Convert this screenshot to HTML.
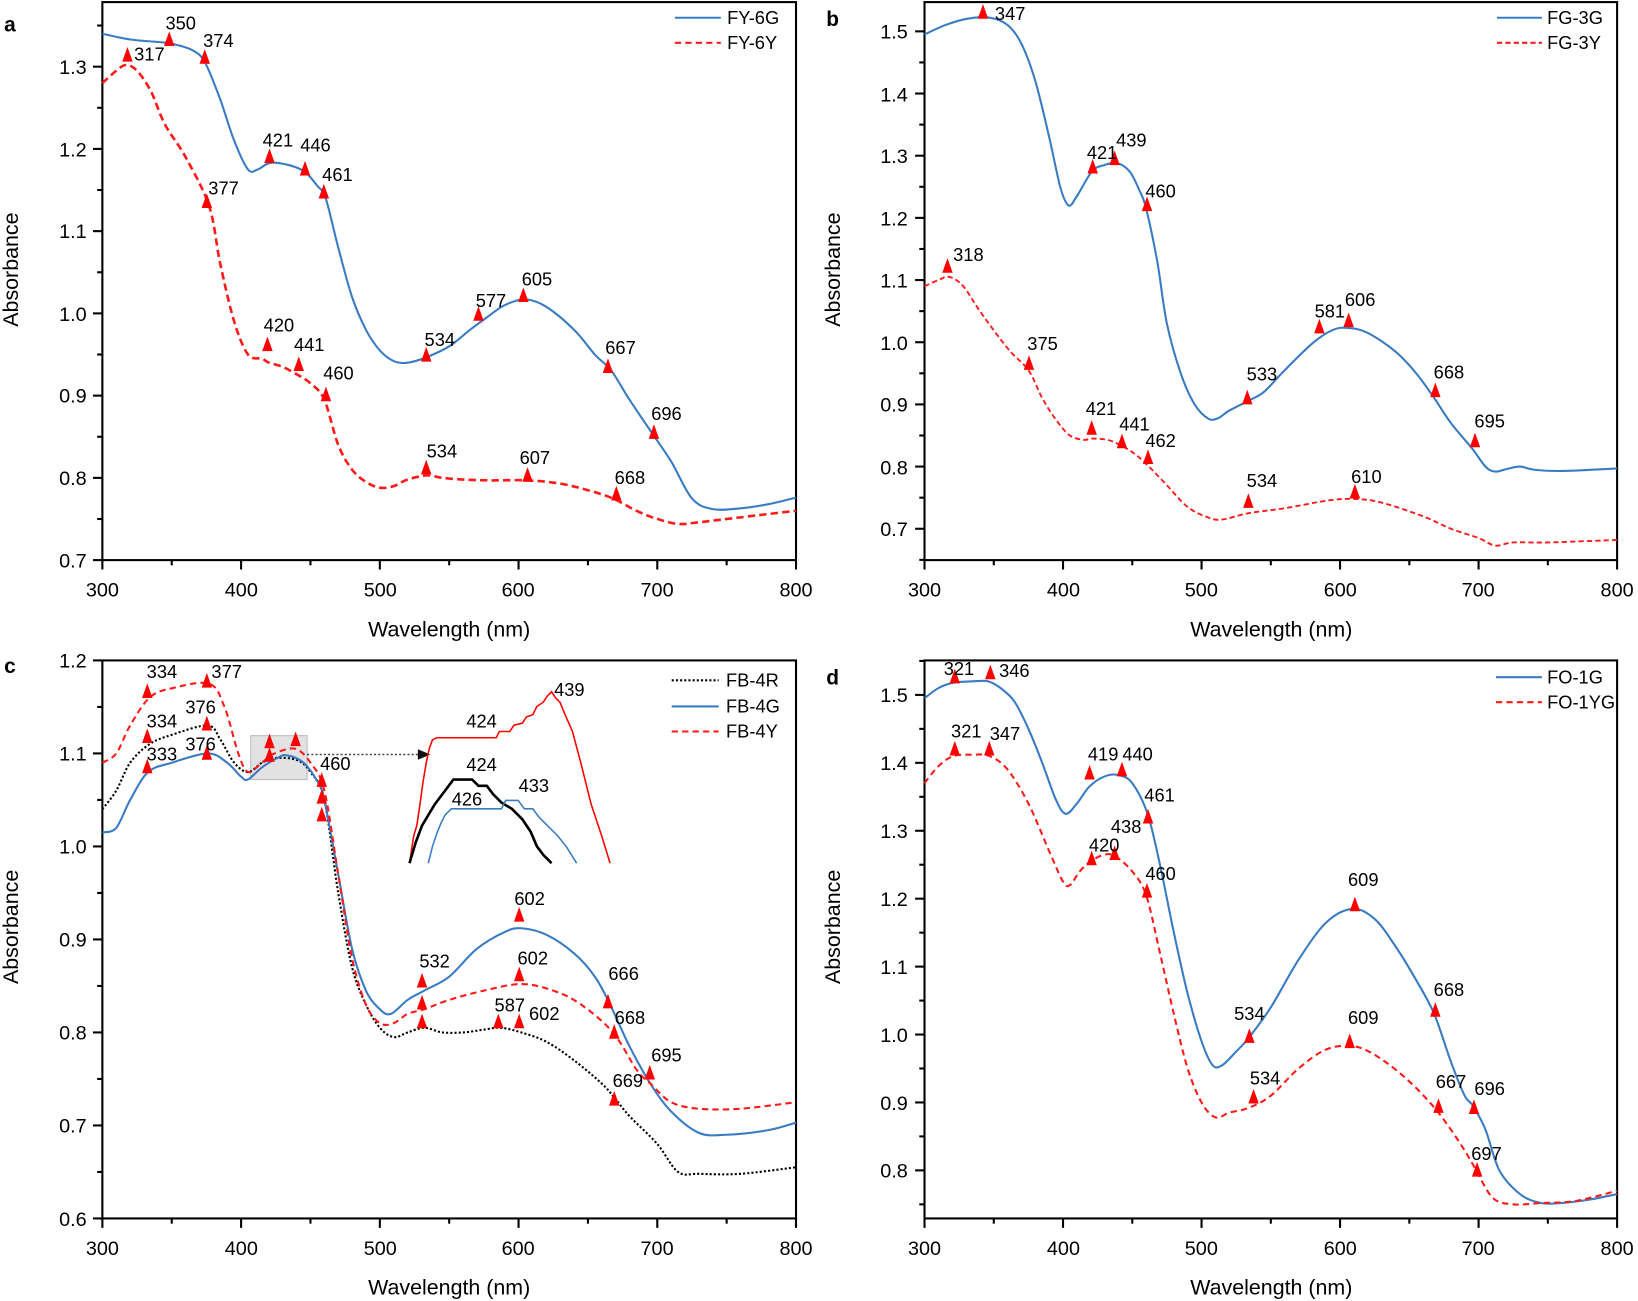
<!DOCTYPE html>
<html><head><meta charset="utf-8"><style>
html,body{margin:0;padding:0;background:#fff}
svg{display:block}
text{font-family:"Liberation Sans",Arial,sans-serif;fill:#000}
.yl{font-size:19px;text-anchor:end}
.xl{font-size:19px;text-anchor:middle}
.ax{font-size:20.5px;text-anchor:middle}
.pk{font-size:17.5px;text-anchor:middle}
.lg{font-size:17.5px}
.pl{font-size:20px;font-weight:bold}
</style></head><body>
<svg id="s" width="1638" height="1301" viewBox="0 0 1568 1245" preserveAspectRatio="none" xmlns="http://www.w3.org/2000/svg">
<g id="g"></g>
<text class="pl" x="4" y="30">a</text>
<text class="pl" x="791" y="25">b</text>
<text class="pl" x="4" y="644">c</text>
<text class="pl" x="791" y="655">d</text>
<g class="yl"><text x="83" y="543">0.7</text><text x="83" y="464">0.8</text><text x="83" y="385">0.9</text><text x="83" y="307">1.0</text><text x="83" y="228">1.1</text><text x="83" y="150">1.2</text><text x="83" y="71">1.3</text></g>
<g class="xl"><text x="98" y="571">300</text><text x="231" y="571">400</text><text x="364" y="571">500</text><text x="496" y="571">600</text><text x="629" y="571">700</text><text x="762" y="571">800</text></g>
<g class="yl"><text x="869" y="513">0.7</text><text x="869" y="454">0.8</text><text x="869" y="394">0.9</text><text x="869" y="335">1.0</text><text x="869" y="275">1.1</text><text x="869" y="216">1.2</text><text x="869" y="156">1.3</text><text x="869" y="97">1.4</text><text x="869" y="37">1.5</text></g>
<g class="xl"><text x="885" y="571">300</text><text x="1018" y="571">400</text><text x="1150" y="571">500</text><text x="1283" y="571">600</text><text x="1415" y="571">700</text><text x="1548" y="571">800</text></g>
<g class="yl"><text x="83" y="1173">0.6</text><text x="83" y="1084">0.7</text><text x="83" y="995">0.8</text><text x="83" y="906">0.9</text><text x="83" y="817">1.0</text><text x="83" y="728">1.1</text><text x="83" y="639">1.2</text></g>
<g class="xl"><text x="98" y="1201">300</text><text x="231" y="1201">400</text><text x="364" y="1201">500</text><text x="496" y="1201">600</text><text x="629" y="1201">700</text><text x="762" y="1201">800</text></g>
<g class="yl"><text x="869" y="1127">0.8</text><text x="869" y="1062">0.9</text><text x="869" y="997">1.0</text><text x="869" y="932">1.1</text><text x="869" y="867">1.2</text><text x="869" y="802">1.3</text><text x="869" y="737">1.4</text><text x="869" y="672">1.5</text></g>
<g class="xl"><text x="885" y="1201">300</text><text x="1018" y="1201">400</text><text x="1150" y="1201">500</text><text x="1283" y="1201">600</text><text x="1415" y="1201">700</text><text x="1548" y="1201">800</text></g>
<text class="ax" x="430" y="609">Wavelength (nm)</text>
<text class="ax" x="1217" y="609">Wavelength (nm)</text>
<text class="ax" x="430" y="1239">Wavelength (nm)</text>
<text class="ax" x="1217" y="1239">Wavelength (nm)</text>
<text class="ax" transform="translate(17,258) rotate(-90)">Absorbance</text>
<text class="ax" transform="translate(804,258) rotate(-90)">Absorbance</text>
<text class="ax" transform="translate(17,887) rotate(-90)">Absorbance</text>
<text class="ax" transform="translate(804,887) rotate(-90)">Absorbance</text>
<text class="lg" x="696" y="23">FY-6G</text><text class="lg" x="696" y="47">FY-6Y</text>
<text class="lg" x="1481" y="23">FG-3G</text><text class="lg" x="1481" y="47">FG-3Y</text>
<text class="lg" x="695" y="657">FB-4R</text><text class="lg" x="695" y="682">FB-4G</text><text class="lg" x="695" y="706">FB-4Y</text>
<text class="lg" x="1481" y="654">FO-1G</text><text class="lg" x="1481" y="678">FO-1YG</text>
<g class="pk">
<text x="173" y="28">350</text><text x="209" y="45">374</text><text x="143" y="58">317</text><text x="266" y="140">421</text><text x="302" y="145">446</text><text x="323" y="173">461</text><text x="214" y="186">377</text><text x="514" y="273">605</text><text x="470" y="294">577</text><text x="421" y="331">534</text><text x="594" y="339">667</text><text x="638" y="402">696</text><text x="267" y="317">420</text><text x="296" y="336">441</text><text x="324" y="363">460</text><text x="423" y="438">534</text><text x="512" y="444">607</text><text x="603" y="463">668</text>
<text x="967" y="19">347</text><text x="1055" y="152">421</text><text x="1083" y="140">439</text><text x="1111" y="189">460</text><text x="927" y="250">318</text><text x="998" y="335">375</text><text x="1273" y="304">581</text><text x="1302" y="293">606</text><text x="1208" y="364">533</text><text x="1387" y="362">668</text><text x="1426" y="409">695</text><text x="1054" y="397">421</text><text x="1086" y="412">441</text><text x="1111" y="428">462</text><text x="1208" y="466">534</text><text x="1308" y="462">610</text>
<text x="155" y="649">334</text><text x="217" y="649">377</text><text x="155" y="696">334</text><text x="192" y="683">376</text><text x="155" y="728">333</text><text x="192" y="718">376</text><text x="321" y="737">460</text><text x="416" y="926">532</text><text x="507" y="866">602</text><text x="510" y="923">602</text><text x="488" y="968">587</text><text x="521" y="976">602</text><text x="597" y="938">666</text><text x="603" y="980">668</text><text x="638" y="1016">695</text><text x="601" y="1040">669</text>
<text x="545" y="666">439</text><text x="461" y="696">424</text><text x="461" y="738">424</text><text x="447" y="771">426</text><text x="511" y="758">433</text>
<text x="918" y="646">321</text><text x="971" y="648">346</text><text x="925" y="706">321</text><text x="962" y="708">347</text><text x="1056" y="728">419</text><text x="1089" y="728">440</text><text x="1110" y="767">461</text><text x="1057" y="815">420</text><text x="1078" y="797">438</text><text x="1111" y="842">460</text><text x="1305" y="848">609</text><text x="1196" y="976">534</text><text x="1387" y="953">668</text><text x="1211" y="1038">534</text><text x="1305" y="980">609</text><text x="1389" y="1041">667</text><text x="1426" y="1048">696</text><text x="1423" y="1110">697</text>
</g>
</svg>
<script>
var NS="http://www.w3.org/2000/svg",G=document.getElementById("g");
function el(n,a){var e=document.createElementNS(NS,n);for(var k in a)e.setAttribute(k,a[k]);G.appendChild(e);return e;}
var B="#3a7cc4",R="#ff1a1a";
var P={a:{x0:98,x1:762,top:2,bot:536,yv:0.7,yp:536,k:787,ymin:0.7,ymax:1.35,st:0.05},
b:{x0:885,x1:1548,top:2,bot:536,yv:0.7,yp:506,k:595,ymin:0.65,ymax:1.55,st:0.05},
c:{x0:98,x1:762,top:632,bot:1166,yv:0.6,yp:1166,k:890,ymin:0.6,ymax:1.2,st:0.05},
d:{x0:885,x1:1548,top:632,bot:1166,yv:0.8,yp:1120,k:650,ymin:0.75,ymax:1.55,st:0.05}};
function X(p,w){return p.x0+(w-300)*(p.x1-p.x0)/500;}
function Y(p,v){return p.yp-(v-p.yv)*p.k;}
function frame(p){
 el("rect",{x:p.x0,y:p.top,width:p.x1-p.x0,height:p.bot-p.top,fill:"none",stroke:"#000","stroke-width":2});
 for(var w=300;w<=800;w+=50){var x=X(p,w);el("line",{x1:x,x2:x,y1:p.bot,y2:p.bot+(w%100?5:9),stroke:"#000","stroke-width":2});}
 for(var i=0;i<40;i++){var v=Math.round((p.ymin+i*p.st)*100)/100;if(v>p.ymax+1e-6)break;var y=Y(p,v);if(y<p.top-1||y>p.bot+1)continue;
  var maj=Math.abs(v*10-Math.round(v*10))<1e-6;el("line",{x1:p.x0,x2:p.x0-(maj?9:5),y1:y,y2:y,stroke:"#000","stroke-width":2});}
}
function curve(p,d,col,dash,w){var pts=[];for(var i=0;i<d.length;i+=2)pts.push([X(p,d[i]),Y(p,d[i+1])]);
 var s="M"+pts[0][0].toFixed(1)+","+pts[0][1].toFixed(1);
 for(var i=0;i<pts.length-1;i++){var p0=pts[Math.max(0,i-1)],p1=pts[i],p2=pts[i+1],p3=pts[Math.min(pts.length-1,i+2)];
  var c1=[p1[0]+(p2[0]-p0[0])/6,p1[1]+(p2[1]-p0[1])/6],c2=[p2[0]-(p3[0]-p1[0])/6,p2[1]-(p3[1]-p1[1])/6];
  s+="C"+c1[0].toFixed(1)+","+c1[1].toFixed(1)+" "+c2[0].toFixed(1)+","+c2[1].toFixed(1)+" "+p2[0].toFixed(1)+","+p2[1].toFixed(1);}
 var a={d:s,fill:"none",stroke:col,"stroke-width":w||2,"stroke-linejoin":"round"};if(dash)a["stroke-dasharray"]=dash;el("path",a);}
function mk(arr){for(var i=0;i<arr.length;i+=2){var x=arr[i],y=arr[i+1];el("polygon",{points:(x-5)+","+(y+6)+" "+(x+5)+","+(y+6)+" "+x+","+(y-8),fill:"#f00"});}}
for(var k in P)frame(P[k]);
curve(P.a,[300,1.34,320,1.333,340,1.33,350,1.328,365,1.32,374,1.305,385,1.26,395,1.21,405,1.175,412,1.175,421,1.183,435,1.18,446,1.172,455,1.155,461,1.14,470,1.08,480,1.02,490,0.98,500,0.955,510,0.942,520,0.94,534,0.947,550,0.96,565,0.98,577,0.995,590,1.01,605,1.017,620,1.008,640,0.98,655,0.95,667,0.93,680,0.895,696,0.855,710,0.82,725,0.775,740,0.762,760,0.763,780,0.768,800,0.776],B);
curve(P.a,[300,1.28,310,1.295,317,1.302,325,1.295,335,1.27,345,1.23,360,1.19,377,1.13,385,1.06,395,0.99,405,0.95,415,0.945,420,0.94,430,0.935,441,0.925,450,0.915,460,0.895,470,0.84,480,0.81,490,0.795,500,0.788,510,0.79,520,0.798,534,0.803,545,0.8,560,0.798,580,0.797,607,0.797,630,0.793,650,0.785,668,0.775,685,0.76,700,0.75,715,0.744,730,0.746,760,0.752,800,0.76],R,"7,4",2.5);
mk([162,38,196,55,122,53,258,150,292,162,310,184,198,193,501,283,458,301,408,340,582,351,626,414,256,330,286,349,312,378,408,448,505,455,590,473]);
curve(P.b,[300,1.495,315,1.51,330,1.52,347,1.522,360,1.51,370,1.48,380,1.42,390,1.33,398,1.25,404,1.22,410,1.235,421,1.275,430,1.285,439,1.288,448,1.275,455,1.245,460,1.215,468,1.13,475,1.03,485,0.95,495,0.9,505,0.877,512,0.878,520,0.89,533,0.905,545,0.92,560,0.955,581,1.0,595,1.02,606,1.023,620,1.015,640,0.985,655,0.95,668,0.91,680,0.87,695,0.83,705,0.8,712,0.792,720,0.796,730,0.8,740,0.795,760,0.793,800,0.797],B);
curve(P.b,[300,1.09,310,1.1,318,1.105,328,1.09,340,1.05,360,0.99,375,0.955,385,0.91,395,0.875,405,0.85,415,0.843,421,0.845,432,0.843,441,0.835,452,0.82,462,0.8,475,0.77,490,0.735,505,0.718,515,0.715,534,0.725,560,0.733,590,0.745,610,0.748,630,0.742,660,0.72,680,0.7,700,0.685,712,0.673,725,0.678,750,0.678,800,0.682],R,"5,3",1.8);
mk([941,12,1046,160,1067,152,1098,196,907,255,985,348,1263,313,1291,307,1194,381,1374,374,1412,422,1045,410,1074,423,1099,438,1195,480,1297,471]);
el("rect",{x:240,y:704,width:54,height:42,fill:"#e2e2e2",stroke:"#bbb","stroke-width":1});
curve(P.c,[300,1.04,310,1.06,320,1.09,334,1.11,350,1.12,376,1.13,385,1.115,395,1.09,405,1.08,415,1.09,424,1.095,440,1.093,450,1.08,460,1.05,470,0.95,480,0.87,490,0.83,500,0.805,510,0.795,520,0.8,532,0.805,545,0.8,560,0.8,575,0.803,587,0.805,602,0.8,620,0.79,640,0.77,660,0.745,669,0.73,680,0.71,700,0.68,715,0.65,730,0.648,760,0.648,800,0.655],"#000","2,2",2);
curve(P.c,[300,1.015,310,1.02,320,1.05,333,1.08,350,1.09,376,1.1,390,1.09,400,1.075,405,1.072,415,1.085,426,1.095,433,1.098,445,1.09,455,1.07,460,1.05,470,0.97,480,0.89,490,0.845,500,0.825,508,0.82,520,0.835,532,0.845,550,0.86,570,0.89,590,0.908,602,0.912,620,0.905,640,0.885,655,0.86,666,0.83,680,0.785,695,0.745,710,0.715,730,0.692,750,0.69,780,0.695,800,0.703],B);
curve(P.c,[300,1.09,310,1.1,320,1.13,334,1.16,350,1.17,377,1.175,388,1.15,398,1.1,405,1.08,415,1.09,424,1.1,439,1.105,450,1.09,460,1.06,470,0.97,480,0.88,490,0.83,500,0.81,510,0.81,520,0.82,532,0.825,550,0.835,575,0.845,602,0.852,625,0.845,645,0.83,668,0.8,685,0.76,695,0.745,710,0.725,730,0.718,760,0.718,800,0.725],R,"6,4",2);
el("line",{x1:294,y1:722,x2:402,y2:722,stroke:"#444","stroke-width":1.5,"stroke-dasharray":"2,2"});
el("polygon",{points:"412,722 400,717 400,727",fill:"#111"});
el("path",{d:"M392,826 L396,800 L399,790 L402,770 L405,748 L408,730 L411,716 L414,708 L418,706 L475,706 L478,700 L488,700 L492,694 L500,692 L504,686 L510,684 L514,676 L520,672 L524,666 L528,662 L532,668 L536,672 L541,684 L548,700 L556,730 L566,770 L576,800 L584,826",fill:"none",stroke:"#f00","stroke-width":1.5});
el("path",{d:"M392,826 L398,806 L404,790 L410,780 L416,770 L422,762 L428,754 L434,746 L452,746 L458,752 L466,752 L472,760 L480,768 L490,774 L500,784 L508,796 L514,810 L520,818 L528,826",fill:"none",stroke:"#000","stroke-width":2.5});
el("path",{d:"M410,826 L414,810 L418,798 L422,788 L426,780 L432,774 L480,774 L484,766 L496,766 L502,774 L510,774 L516,782 L524,790 L534,800 L542,810 L552,826",fill:"none",stroke:B,"stroke-width":1.5});
mk([141,662,198,652,141,705,198,693,141,734,198,721,258,710,283,708,258,723,308,747,308,763,308,780,404,939,404,960,404,978,497,876,497,933,477,978,497,978,582,959,588,988,622,1027,588,1052]);
curve(P.d,[300,1.495,310,1.51,321,1.518,335,1.52,346,1.52,355,1.51,365,1.49,375,1.45,385,1.4,395,1.345,402,1.325,410,1.34,419,1.365,430,1.38,440,1.382,450,1.37,461,1.325,470,1.25,480,1.15,490,1.06,500,0.99,508,0.955,515,0.955,525,0.975,534,0.995,550,1.04,570,1.11,590,1.165,609,1.185,625,1.17,640,1.13,655,1.08,668,1.03,680,0.96,690,0.91,696,0.895,705,0.86,715,0.8,730,0.765,745,0.752,760,0.752,780,0.757,800,0.765],B);
curve(P.d,[300,1.37,310,1.395,321,1.41,335,1.412,347,1.41,360,1.39,375,1.34,390,1.27,400,1.225,405,1.22,412,1.24,420,1.255,430,1.265,438,1.262,450,1.24,460,1.205,470,1.12,480,1.03,490,0.95,500,0.9,510,0.878,520,0.885,534,0.892,550,0.91,570,0.95,590,0.978,609,0.983,625,0.97,645,0.94,667,0.895,685,0.845,697,0.805,710,0.76,725,0.75,745,0.752,770,0.755,800,0.77],R,"6,4",2);
mk([914,648,948,644,914,717,947,717,1043,740,1074,737,1099,782,1045,822,1067,817,1098,853,1297,866,1196,992,1374,967,1200,1050,1292,997,1377,1059,1411,1060,1414,1120]);
function ll(x1,x2,y,c,d,w){var a={x1:x1,x2:x2,y1:y,y2:y,stroke:c,"stroke-width":w||2};if(d)a["stroke-dasharray"]=d;el("line",a);}
ll(646,690,17,B);ll(646,690,41,R,"6,4");
ll(1433,1476,17,B);ll(1433,1476,41,R,"5,3");
ll(643,688,651,"#000","2,2");ll(643,688,676,B);ll(643,688,700,R,"6,4");
ll(1432,1476,648,B);ll(1432,1476,672,R,"6,4");
</script>
</body></html>
